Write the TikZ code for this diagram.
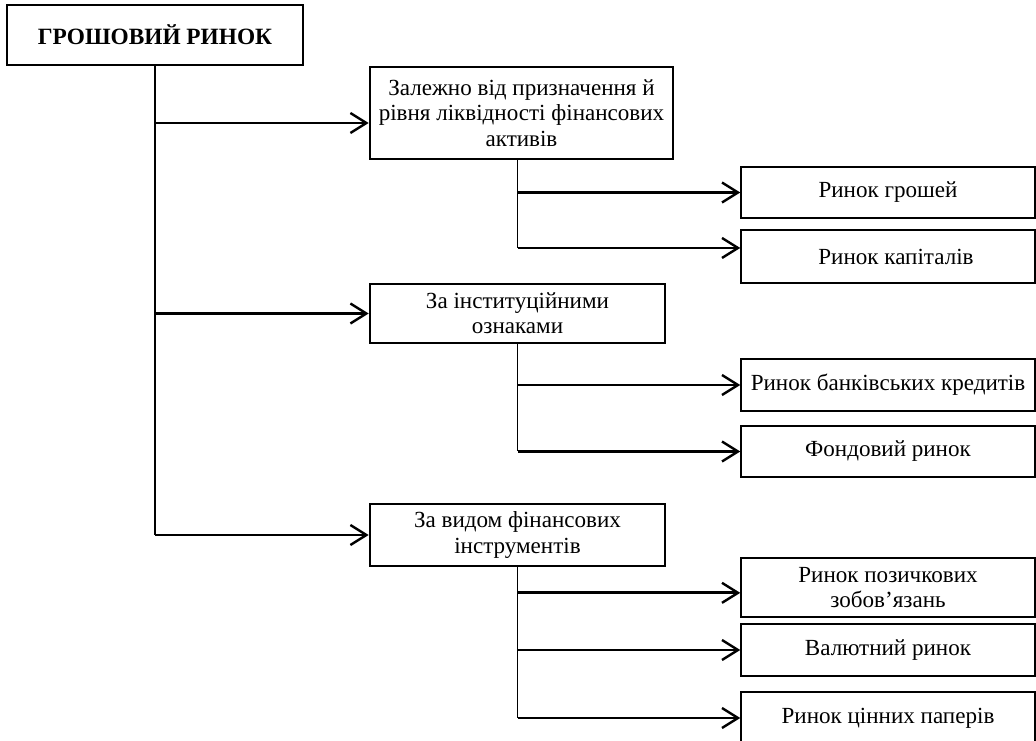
\documentclass[tikz,border=0pt]{standalone}
\usepackage{fontspec}
\setmainfont{Liberation Serif}
\usetikzlibrary{positioning, arrows.meta}
\tikzset{
    x=0.75pt, y=-0.75pt, % One unit is one pixel of the scheme
    every node/.style={ % Sets the text of each block
        font=\fontsize{17.3}{19}\selectfont,
        align=center,
        inner sep=0pt
    },
    rootbox/.style={ % The main block at the top left
        draw,
        line width=2.2pt,
        minimum width=222pt, minimum height=45pt,
        font=\fontsize{17.5}{20}\selectfont\bfseries
    },
    groupbox/.style={ % Blocks of the classification signs
        draw,
        line width=2pt
    },
    marketbox/.style={ % Kinds of the market
        draw,
        line width=1.1pt,
        minimum width=220.5pt
    },
    trunk/.style={draw, line width=0.9pt},
    branch/.style={ % Makes the branches directed with open heads
        draw,
        line width=2.1pt,
        -{Straight Barb[length=12pt, width=15pt, line width=1.8pt]}
    }
}
\begin{document}
\begin{tikzpicture}
    \useasboundingbox (0,0) rectangle (1036,741);
    \node[rootbox] (root) at (155,35) {ГРОШОВИЙ РИНОК};
    \node[groupbox, minimum width=227.25pt, minimum height=69pt] (cat1) at (521.5,113)
        {Залежно від призначення й\\ рівня ліквідності фінансових\\ активів};
    \node[groupbox, minimum width=221.25pt, minimum height=44.25pt] (cat2) at (517.5,313.5)
        {За інституційними\\ ознаками};
    \node[groupbox, minimum width=221.25pt, minimum height=46.5pt] (cat3) at (517.5,535)
        {За видом фінансових\\ інструментів};
    \node[marketbox, minimum height=38.25pt] (money) at (888,192.5) {Ринок грошей};
    \node[marketbox, minimum height=39.75pt] (capital) at (888,256.5) {\hspace{12pt}Ринок капіталів};
    \node[marketbox, minimum height=39pt] (credit) at (888,385) {Ринок банківських кредитів};
    \node[marketbox, minimum height=38.25pt] (stock) at (888,451.5) {Фондовий ринок};
    \node[marketbox, minimum height=44.25pt] (loan) at (888,587.5) {Ринок позичкових\\ зобов’язань};
    \node[marketbox, minimum height=39pt] (currency) at (888,650) {Валютний ринок};
    \node[marketbox, minimum height=39pt] (securities) at (888,718) {Ринок цінних паперів};

    % arrow ends that do not meet the middle of a block
    \coordinate (cat1in) at ([yshift=-7.5pt]cat1.west);
    \coordinate (capitalin) at ([yshift=6.4pt]capital.west);
    \coordinate (loanin) at ([yshift=-4pt]loan.west);

    % main trunk and its branches
    \draw[trunk] (root.south) -- (root.south |- cat3.west);
    \draw[branch] (root.south |- cat1in) -- (cat1in);
    \draw[branch] (root.south |- cat2.west) -- (cat2.west);
    \draw[branch] (root.south |- cat3.west) -- (cat3.west);

    % first group
    \draw[trunk] (cat1.south -| cat2.south) -- (cat2.north |- capitalin);
    \draw[branch] (cat2.north |- money.west) -- (money.west);
    \draw[branch] (cat2.north |- capitalin) -- (capitalin);

    % second group
    \draw[trunk] (cat2.south) -- (cat2.south |- stock.west);
    \draw[branch] (cat2.south |- credit.west) -- (credit.west);
    \draw[branch] (cat2.south |- stock.west) -- (stock.west);

    % third group
    \draw[trunk] (cat3.south) -- (cat3.south |- securities.west);
    \draw[branch] (cat3.south |- loanin) -- (loanin);
    \draw[branch] (cat3.south |- currency.west) -- (currency.west);
    \draw[branch] (cat3.south |- securities.west) -- (securities.west);
\end{tikzpicture}
\end{document}
